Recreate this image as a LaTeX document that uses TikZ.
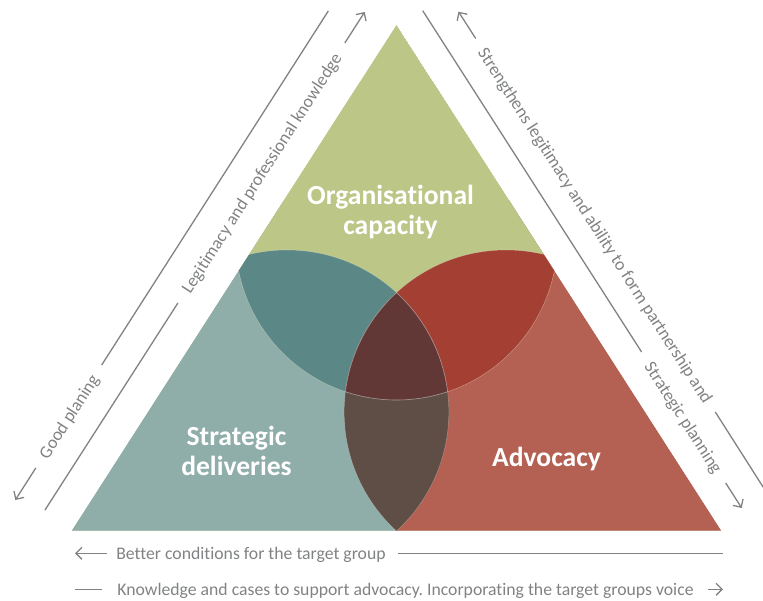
\documentclass[tikz,border=0pt]{standalone}
\usepackage{fontspec}
\setmainfont{Carlito}[Ligatures=NoCommon]
\frenchspacing
\usetikzlibrary{arrows.meta}
\definecolor{cgreen}{RGB}{188,199,135}
\definecolor{cteal}{RGB}{143,173,169}
\definecolor{cdteal}{RGB}{91,136,134}
\definecolor{cred}{RGB}{180,96,83}
\definecolor{cdred}{RGB}{164,63,52}
\definecolor{cmaroon}{RGB}{98,56,55}
\definecolor{cbrown}{RGB}{94,78,69}
\definecolor{cgray}{RGB}{128,130,131}
\begin{document}
\begin{tikzpicture}[x=1pt,y=-1pt,
  track/.style={draw=cgray, line width=1.3pt},
  arr/.style={track, -{Straight Barb[length=6pt,width=12pt]}},
  gtext/.style={text=cgray, font=\fontsize{17.7}{20}\selectfont, inner sep=0pt, text height=12pt, text depth=0pt, anchor=center},
  btext/.style={text=white, font=\fontsize{27.6}{30}\selectfont\bfseries, inner sep=0pt, anchor=base},
  edge/.style={draw=white, draw opacity=0.25, line width=0.6pt}]
\useasboundingbox (0,0) rectangle (763,601);

% triangle and circle centres
\coordinate (apex) at (396.5,25);
\coordinate (BL) at (72,530.5);
\coordinate (BR) at (721,530.5);
\coordinate (CT) at (396.5,239);
\coordinate (CL) at (287,411.85);
\coordinate (CR) at (506,411.85);
\def\rT{161pt}
\def\rS{161.85pt}

\begin{scope}
  \clip (apex) -- (BL) -- (BR) -- cycle;
  \fill[cgreen] (apex) -- (BL) -- (BR) -- cycle;
  \fill[cteal] (0,200) rectangle (396.5,601);
  \fill[cred] (396.5,200) rectangle (763,601);
  \fill[cgreen] (CT) circle[radius=\rT];
  \begin{scope}
    \clip (CT) circle[radius=\rT];
    \fill[cdteal] (CL) circle[radius=\rS];
    \fill[cdred] (CR) circle[radius=\rS];
  \end{scope}
  \begin{scope}
    \clip (CL) circle[radius=\rS];
    \fill[cbrown] (CR) circle[radius=\rS];
    \begin{scope}
      \clip (CT) circle[radius=\rT];
      \fill[cmaroon] (CR) circle[radius=\rS];
    \end{scope}
  \end{scope}
  % faint boundaries
  \begin{scope}\clip (CL) circle[radius=\rS];
    \draw[edge] (CT) circle[radius=\rT]; \draw[edge] (CR) circle[radius=\rS];\end{scope}
  \begin{scope}\clip (CR) circle[radius=\rS];
    \draw[edge] (CT) circle[radius=\rT]; \draw[edge] (CL) circle[radius=\rS];\end{scope}
  \begin{scope}\clip (CT) circle[radius=\rT];
    \draw[edge] (CL) circle[radius=\rS]; \draw[edge] (CR) circle[radius=\rS];\end{scope}
\end{scope}

% main labels
\node[btext] (org1) at (390.5,205) {Organisational};
\node[btext] (org2) at (390.5,235) {capacity};
\node[btext] (sd1) at (236.5,445) {Strategic};
\node[btext] (sd2) at (236.5,475) {deliveries};
\node[btext] (adv) at (546.5,466) {Advocacy};

% left track A (inner)
\coordinate (A0) at (45,510);
\coordinate (A1) at (177.9,303);
\coordinate (A2) at (344.8,43);
\coordinate (A3) at (364.7,12);
\draw[track] (A0) -- (A1);
\node[gtext, rotate=57.3] (legit) at (261.4,173) {Legitimacy and professional knowledge};
\draw[arr] (A2) -- (A3);

% left track B (outer)
\coordinate (B0) at (328.3,11);
\coordinate (B1) at (101.7,365);
\coordinate (B2) at (35.8,468);
\coordinate (B3) at (15.3,500);
\draw[track] (B0) -- (B1);
\node[gtext, rotate=57.3] (good) at (68.75,416.5) {Good planing};
\draw[arr] (B2) -- (B3);

% right track C (inner)
\coordinate (C0) at (422.7,10.7);
\coordinate (C1) at (641.6,352);
\coordinate (C2) at (725.7,483);
\coordinate (C3) at (741.7,508);
\draw[track] (C0) -- (C1);
\node[gtext, rotate=-57.3] (strat) at (683.65,417.5) {Strategic planning};
\draw[arr] (C2) -- (C3);

% right track D (outer)
\coordinate (D0) at (475.7,38.5);
\coordinate (D1) at (458.5,11.7);
\coordinate (D2) at (715.3,412);
\coordinate (D3) at (765,490);
\draw[arr] (D0) -- (D1);
\node[gtext, rotate=-57.3] (streng) at (595.5,225.25) {Strengthens legitimacy and ability to form partnership and};
\draw[track] (D2) -- (D3);

% bottom rows
\coordinate (E0) at (107,553.3);
\coordinate (E1) at (75,553.3);
\coordinate (E2) at (398,553.3);
\coordinate (E3) at (723,553.3);
\draw[arr] (E0) -- (E1);
\node[gtext] (better) at (251,553.3) {Better conditions for the target group};
\draw[track] (E2) -- (E3);

\coordinate (F0) at (75,589.3);
\coordinate (F1) at (102,589.3);
\coordinate (F2) at (708,589.3);
\coordinate (F3) at (723,589.3);
\draw[track] (F0) -- (F1);
\node[gtext] (know) at (405.5,589.3) {Knowledge and cases to support advocacy. Incorporating the target groups voice};
\draw[arr] (F2) -- (F3);
\end{tikzpicture}
\end{document}
